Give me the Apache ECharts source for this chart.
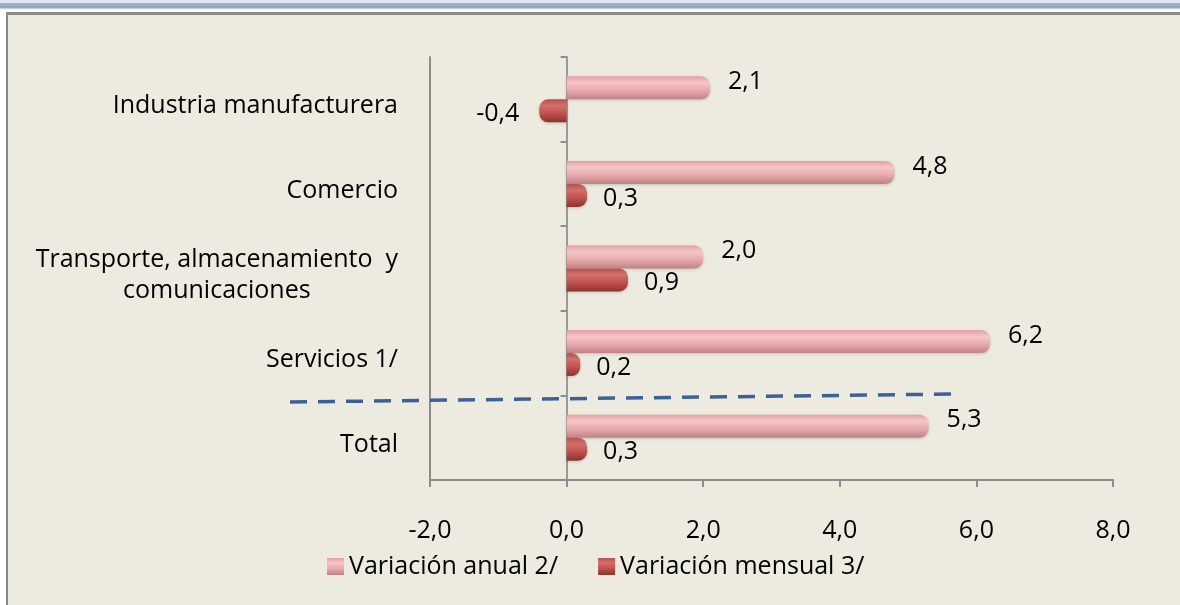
<!DOCTYPE html>
<html>
<head>
<meta charset="utf-8">
<script src="https://cdn.jsdelivr.net/npm/echarts@6/dist/echarts.min.js"></script>
<style>
html, body { margin: 0; padding: 0; background: #ffffff; }
#frame {
    position: absolute;
    left: 0; top: 0;
    width: 1180px; height: 605px;
}
#topband {
    position: absolute;
    left: 0; top: 0; width: 1180px; height: 12px;
    background: linear-gradient(#dfe5f2 0px, #dfe5f2 3px, #a8b4c6 3px, #93a2b5 8px, #f4f6f9 9px, #ffffff 12px);
}
#chart {
    position: absolute;
    left: 6px; top: 12px;
    width: 1174px; height: 593px;
    border-left: 2px solid #8a8a8a;
    border-top: 3px solid #8a8a8a;
    background: #edeae0;
    box-sizing: border-box;
}
</style>
</head>
<body>
<div id="frame">
    <div id="topband"></div>
    <div id="chart"></div>
</div>
<script>
// categorias y valores (% de variacion)
const categories = ['Industria manufacturera', 'Comercio', 'Transporte, almacenamiento  y\ncomunicaciones', 'Servicios 1/', 'Total']
const anual = [2.1, 4.8, 2.0, 6.2, 5.3]
const mensual = [-0.4, 0.3, 0.9, 0.2, 0.3]
const xTicks = { min: -2, max: 8, step: 2 }
const seriesNames = ['Variación anual 2/', 'Variación mensual 3/']

const FONT = 'Open Sans'
const FS = 25
const fmt = (v) => Number(v).toFixed(1).replace('.', ',')

const grad = (c) => new echarts.graphic.LinearGradient(0, 0, 0, 1, [
    { offset: 0, color: c[0] },
    { offset: 0.28, color: c[1] },
    { offset: 0.6, color: c[2] },
    { offset: 1, color: c[3] }
])
const pinkCols = ['#e3a1a3', '#f5c6c7', '#eaabad', '#bf8385']
const redCols = ['#b8504d', '#d2706d', '#c1514e', '#8a3431']

// negativos: extremo redondeado y etiqueta a la izquierda
const toItems = (arr, dist) => arr.map((v) => ({
    value: v,
    itemStyle: { borderRadius: v < 0 ? [9, 0, 0, 9] : [0, 9, 9, 0] },
    label: { position: v < 0 ? 'left' : 'right', distance: v < 0 ? 20 : dist }
}))

let myChart = echarts.init(document.getElementById('chart'))

const option = {
    backgroundColor: 'transparent',
    textStyle: { fontFamily: FONT },
    animation: false,
    grid: { left: 422, right: 67, top: 42, bottom: 125 },
    legend: {
        data: seriesNames,
        left: 314,
        top: 534,
        icon: 'rect',
        itemWidth: 17,
        itemHeight: 17,
        itemGap: 40,
        textStyle: { fontFamily: FONT, fontSize: FS, color: '#000' }
    },
    xAxis: {
        type: 'value',
        min: xTicks.min,
        max: xTicks.max,
        interval: xTicks.step,
        axisLine: { show: true, onZero: false, lineStyle: { color: '#8c8c8c', width: 2 } },
        axisTick: { show: true, length: 7, lineStyle: { color: '#8c8c8c', width: 2 } },
        splitLine: { show: false },
        axisLabel: {
            margin: 38,
            fontFamily: FONT,
            fontSize: FS,
            color: '#000',
            formatter: fmt
        }
    },
    yAxis: [
        {
            type: 'category',
            inverse: true,
            data: categories,
            axisLine: { show: true, onZero: false, lineStyle: { color: '#8c8c8c', width: 2 } },
            axisTick: { show: false },
            axisLabel: {
                margin: 32,
                fontFamily: FONT,
                fontSize: FS,
                color: '#000',
                lineHeight: 31,
                padding: [14, 0, 0, 0],
                formatter: (v) => '{c|' + v + '}',
                rich: { c: { align: 'center', fontFamily: FONT, fontSize: FS, lineHeight: 31, color: '#000' } }
            }
        },
        {
            type: 'category',
            inverse: true,
            position: 'left',
            data: categories,
            axisLine: { show: true, onZero: true, lineStyle: { color: '#9a9a9a', width: 2 } },
            axisTick: { show: true, length: 6, lineStyle: { color: '#8c8c8c', width: 2 } },
            axisLabel: { show: false }
        }
    ],
    series: [
        {
            name: seriesNames[0],
            type: 'bar',
            yAxisIndex: 0,
            barWidth: 23,
            barGap: '0%',
            data: toItems(anual, 18),
            itemStyle: {
                color: grad(pinkCols),
                shadowColor: 'rgba(0,0,0,0.18)',
                shadowBlur: 3,
                shadowOffsetY: 1
            },
            label: {
                show: true,
                offset: [0, -6],
                fontFamily: FONT,
                fontSize: FS,
                color: '#000',
                formatter: (p) => fmt(p.value)
            }
        },
        {
            name: seriesNames[1],
            type: 'bar',
            yAxisIndex: 0,
            barWidth: 23,
            barGap: '0%',
            data: toItems(mensual, 16),
            itemStyle: {
                color: grad(redCols),
                shadowColor: 'rgba(0,0,0,0.18)',
                shadowBlur: 3,
                shadowOffsetY: 1
            },
            label: {
                show: true,
                offset: [0, 3],
                fontFamily: FONT,
                fontSize: FS,
                color: '#000',
                formatter: (p) => fmt(p.value)
            }
        }
    ],
    graphic: [
        {
            type: 'line',
            z: 100,
            shape: { x1: 282, y1: 387, x2: 950, y2: 379 },
            style: { stroke: '#3a6298', lineWidth: 3.5, lineDash: [17, 11] }
        }
    ]
}

myChart.setOption(option)
window.addEventListener('resize', () => {
    myChart.resize()
})
</script>
</body>
</html>
